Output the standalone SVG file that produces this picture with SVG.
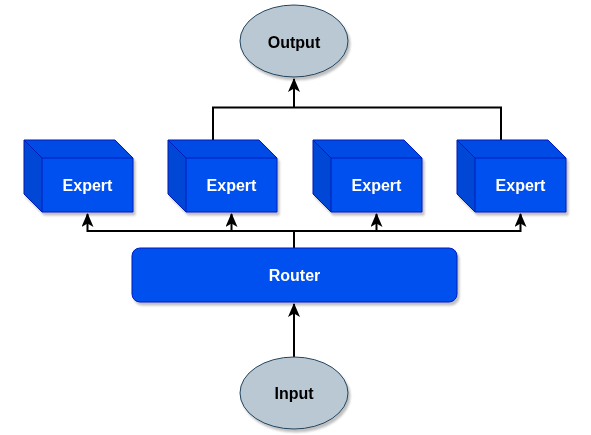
<svg xmlns="http://www.w3.org/2000/svg" width="591" height="435" viewBox="0 0 591 435">
<defs>
<filter id="sh" x="-10%" y="-10%" width="130%" height="130%">
<feDropShadow dx="2" dy="3" stdDeviation="1.2" flood-color="#000" flood-opacity="0.25"/>
</filter>
<marker id="arr" markerWidth="14" markerHeight="12" viewBox="0 0 14 12" refX="13" refY="6" orient="auto" markerUnits="userSpaceOnUse">
<path d="M0,0 L14,6 L0,12 L3.5,6 Z" fill="#000"/>
</marker>
<g id="cube">
<path d="M0,0 L91,0 L109,18 L109,72 L18,72 L0,54 Z" fill="#0050ef" stroke="#001dbc" stroke-width="1"/>
<path d="M0,0 L18,18 L18,72 L0,54 Z" fill="#000" fill-opacity="0.1"/>
<path d="M0,0 L91,0 L109,18 L18,18 Z" fill="#000" fill-opacity="0.04"/>
<path d="M0,0 L18,18 L109,18 M18,18 L18,72" fill="none" stroke="#001dbc" stroke-width="1"/>
</g>
</defs>
<style>
.lbl{font-family:"Liberation Sans",Arial,sans-serif;font-weight:bold;font-size:16px;text-anchor:middle;dominant-baseline:central}
.w{fill:#fff}
.k{fill:#000}
.edge{fill:none;stroke:#000;stroke-width:2}
</style>
<g id="connectors">
<path class="edge" d="M294,357 L294,304" marker-end="url(#arr)"/>
<path class="edge" d="M294,248 L294,231 L87.5,231 L87.5,214" marker-end="url(#arr)"/>
<path class="edge" d="M231.5,231 L231.5,214" marker-end="url(#arr)"/>
<path class="edge" d="M376.5,231 L376.5,214" marker-end="url(#arr)"/>
<path class="edge" d="M294,231 L520.5,231 L520.5,214" marker-end="url(#arr)"/>
<path class="edge" d="M213,140 L213,107.5 L501,107.5 L501,140"/>
<path class="edge" d="M294,107.5 L294,79" marker-end="url(#arr)"/>
</g>
<g id="output" filter="url(#sh)">
<ellipse cx="294" cy="41" rx="54" ry="36" fill="#bac8d3" stroke="#23445d" stroke-width="1"/>
<text class="lbl k" x="294" y="42">Output</text>
</g>
<g id="expert1" filter="url(#sh)">
<use href="#cube" x="24" y="140"/>
<text class="lbl w" x="87.5" y="185">Expert</text>
</g>
<g id="expert2" filter="url(#sh)">
<use href="#cube" x="168" y="140"/>
<text class="lbl w" x="231.5" y="185">Expert</text>
</g>
<g id="expert3" filter="url(#sh)">
<use href="#cube" x="313" y="140"/>
<text class="lbl w" x="376.5" y="185">Expert</text>
</g>
<g id="expert4" filter="url(#sh)">
<use href="#cube" x="457" y="140"/>
<text class="lbl w" x="520.5" y="185">Expert</text>
</g>
<g id="router" filter="url(#sh)">
<rect x="132" y="248" width="325" height="54" rx="8" fill="#0050ef" stroke="#001dbc" stroke-width="1"/>
<text class="lbl w" x="294.5" y="275">Router</text>
</g>
<g id="input" filter="url(#sh)">
<ellipse cx="294" cy="393" rx="54" ry="36" fill="#bac8d3" stroke="#23445d" stroke-width="1"/>
<text class="lbl k" x="294" y="393">Input</text>
</g>
</svg>
